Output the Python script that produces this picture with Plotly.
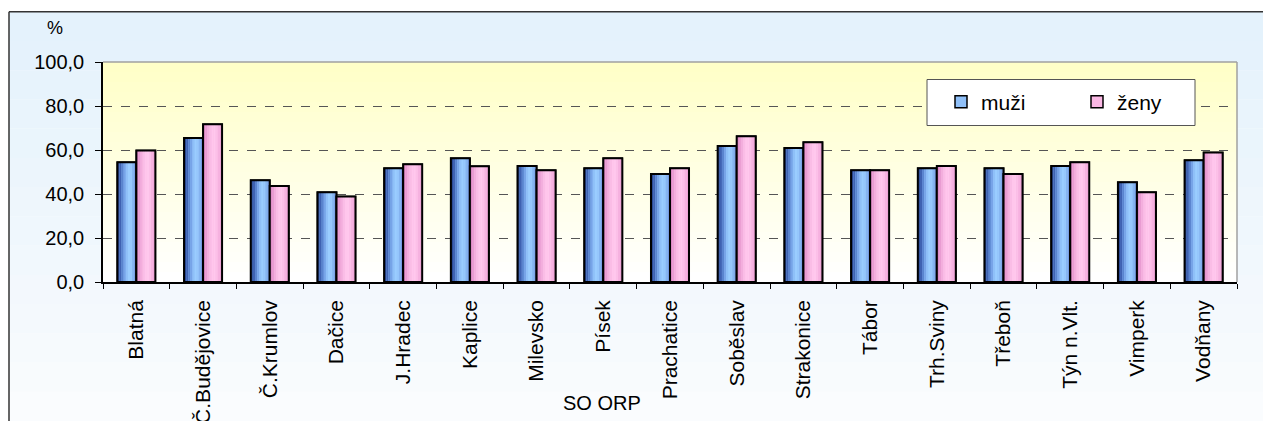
import plotly.graph_objects as go

categories = ["Blatná", "Č.Budějovice", "Č.Krumlov", "Dačice", "J.Hradec", "Kaplice",
              "Milevsko", "Písek", "Prachatice", "Soběslav", "Strakonice", "Tábor",
              "Trh.Sviny", "Třeboň", "Týn n.Vlt.", "Vimperk", "Vodňany"]
muzi = [54.4, 65.5, 46.2, 40.8, 51.7, 56.2, 52.7, 51.7, 49.1, 61.8, 60.9, 50.8,
        51.7, 51.7, 52.7, 45.3, 55.3]
zeny = [59.8, 71.7, 43.6, 38.9, 53.5, 52.6, 50.8, 56.2, 51.7, 66.2, 63.5, 50.8,
        52.7, 49.1, 54.4, 40.8, 58.9]
series_names = ["muži", "ženy"]
y_ticks = [0, 20, 40, 60, 80, 100]

FONT = "Liberation Sans, Arial, sans-serif"
W, H = 1263, 421
L, R, T, B = 103, 26, 62, 139
PW, PH = W - L - R, H - T - B

def px(x):
    return (x - L) / PW

def py(y):
    return (H - B - y) / PH

blue_grad = ["#2c4a96", "#3f62b2", "#5a84cf", "#77a4e8", "#8fc0f8", "#9acdff",
             "#96c7fc", "#86b4f0", "#7398e0"]
pink_grad = ["#dc88c4", "#e99cd2", "#f3aedd", "#fabde6", "#ffc6ec", "#ffc8ed",
             "#fcc0e8", "#f6b2e0", "#eea4d6"]
base_col = ["#90c0f8", "#fab8e4"]
grads = [blue_grad, pink_grad]
values = [muzi, zeny]

bw = 0.285
offsets = [-bw, 0.0]

fig = go.Figure()
for s in range(2):
    fig.add_trace(go.Bar(x=categories, y=values[s], name=series_names[s], width=bw,
                         offset=offsets[s], marker=dict(color=base_col[s],
                         line=dict(color="black", width=1.5)), hoverinfo="skip"))
    g = grads[s]
    n = len(g)
    for k in range(n):
        fig.add_trace(go.Bar(x=categories, y=values[s], width=bw / n,
                             offset=offsets[s] + k * bw / n, showlegend=False,
                             marker=dict(color=g[k], line=dict(width=0)), hoverinfo="skip"))
    fig.add_trace(go.Bar(x=categories, y=values[s], width=bw, offset=offsets[s],
                         showlegend=False, hoverinfo="skip",
                         marker=dict(color="rgba(0,0,0,0)", line=dict(color="black", width=2))))

shapes = []
# outer background gradient (light blue to white)
nb = 14
y0p, y1p = 11.7, H
for i in range(nb):
    t = i / (nb - 1)
    r = int(0xe4 + (0xfa - 0xe4) * t)
    gg = int(0xf2 + (0xfc - 0xf2) * t)
    b = int(0xfc + (0xfe - 0xfc) * t)
    ya = y0p + (y1p - y0p) * i / nb
    yb = y0p + (y1p - y0p) * (i + 1) / nb
    shapes.append(dict(type="rect", xref="paper", yref="paper", x0=px(9), x1=px(W),
                       y0=py(ya), y1=py(yb) - 0.001, fillcolor=f"rgb({r},{gg},{b})",
                       line=dict(width=0), layer="below"))
# plot area yellow gradient
nyb = 22
for i in range(nyb):
    t = i / (nyb - 1)
    b = int(0xc8 + (0xff - 0xc8) * t)
    shapes.append(dict(type="rect", xref="paper", yref="paper", x0=0, x1=1,
                       y0=1 - i / nyb, y1=1 - (i + 1) / nyb - 0.002,
                       fillcolor=f"rgb(255,255,{b})", line=dict(width=0), layer="below"))
# outer frame lines
shapes.append(dict(type="line", xref="paper", yref="paper", x0=px(9), x1=px(W),
                   y0=py(11.7), y1=py(11.7), line=dict(color="#333333", width=1.5)))
shapes.append(dict(type="line", xref="paper", yref="paper", x0=px(9), x1=px(9),
                   y0=py(11.7), y1=py(H), line=dict(color="#333333", width=1.5)))
# plot top/right border
shapes.append(dict(type="line", xref="paper", yref="paper", x0=0, x1=1, y0=1, y1=1,
                   line=dict(color="#a0a0a0", width=1.5)))
shapes.append(dict(type="line", xref="paper", yref="paper", x0=1, x1=1, y0=0, y1=1,
                   line=dict(color="#a0a0a0", width=1.5)))
# legend box
shapes.append(dict(type="rect", xref="paper", yref="paper", x0=px(927), x1=px(1195),
                   y0=py(79.5), y1=py(125.5), fillcolor="white",
                   line=dict(color="#555555", width=1), layer="above"))

fig.update_layout(
    width=W, height=H, margin=dict(l=L, r=R, t=T, b=B, autoexpand=False),
    paper_bgcolor="white", plot_bgcolor="rgba(0,0,0,0)",
    barmode="overlay", separators=", ",
    font=dict(family=FONT, size=20, color="black"),
    shapes=shapes,
    legend=dict(orientation="h", x=px(941), xanchor="left", y=py(102), yanchor="middle",
                bgcolor="rgba(0,0,0,0)", borderwidth=0, entrywidth=91,
                font=dict(family=FONT, size=21, color="black")),
    annotations=[
        dict(text="%", xref="paper", yref="paper", x=px(55), y=py(28), showarrow=False,
             font=dict(family=FONT, size=18, color="black"), xanchor="center", yanchor="middle"),
        dict(text="SO ORP", xref="paper", yref="paper", x=px(602), y=py(403), showarrow=False,
             font=dict(family=FONT, size=20, color="black"), xanchor="center", yanchor="middle"),
    ],
)
fig.update_xaxes(type="category", tickson="boundaries", ticks="outside", ticklen=5,
                 tickcolor="black", tickwidth=1, tickangle=-90, showline=True,
                 linecolor="black", linewidth=1.5, showgrid=False, automargin=False,
                 tickfont=dict(family=FONT, size=21), ticklabelstandoff=8)
fig.update_yaxes(range=[0, 100], tickvals=y_ticks, tickformat=".1f", ticks="outside",
                 ticklen=6, tickcolor="black", showline=True, linecolor="black",
                 linewidth=1.5, showgrid=True, gridcolor="#555555", griddash="dash",
                 gridwidth=1, zeroline=False, automargin=False,
                 tickfont=dict(family=FONT, size=20), ticklabelstandoff=7)
fig.write_html("out.html", config={"displayModeBar": False},
               post_script="document.body.style.margin='0';document.body.style.overflow='hidden';")
